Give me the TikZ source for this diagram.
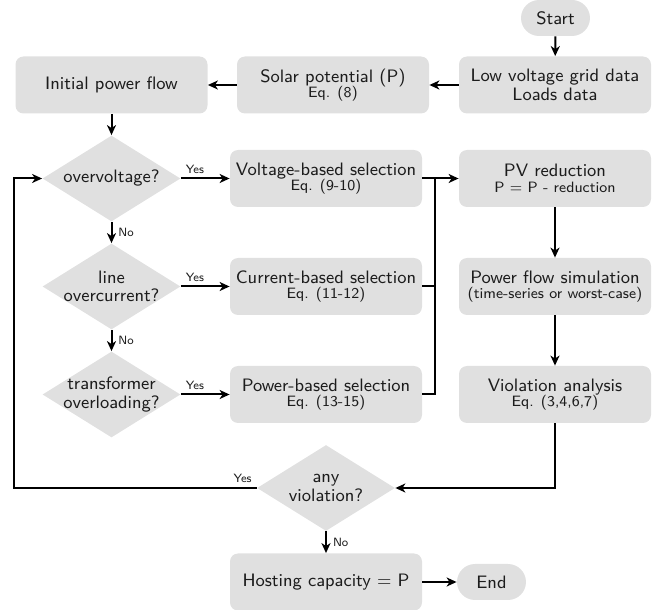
\documentclass[tikz,border=0pt]{standalone}
\usepackage{fontspec}
\usetikzlibrary{shapes.geometric,arrows.meta}
\definecolor{boxfill}{RGB}{224,224,224}
\definecolor{txt}{RGB}{28,28,28}
\newcommand{\mainfnt}{\sffamily\fontsize{9}{9.3}\selectfont}
\newcommand{\subfnt}{\fontsize{7.5}{8}\selectfont}
\newcommand{\lblfnt}{\sffamily\fontsize{6}{7}\selectfont}
\begin{document}
\begin{tikzpicture}[x=0.5pt,y=-0.5pt,
  proc/.style={rectangle, rounded corners=4pt, fill=boxfill, minimum width=96pt, minimum height=28.5pt, align=center, inner sep=1pt, text=txt, font=\mainfnt},
  term/.style={rectangle, rounded corners=9pt, fill=boxfill, minimum width=34.5pt, minimum height=18pt, inner sep=1pt, text=txt, font=\mainfnt},
  dia/.style={diamond, fill=boxfill, minimum width=69pt, minimum height=43pt, inner sep=0pt},
  dtext/.style={align=center, text=txt, font=\mainfnt, inner sep=0pt},
  flow/.style={line width=1pt, -{Stealth[length=5pt,width=4.5pt,inset=1.5pt]}},
  plain/.style={line width=1pt},
  lbl/.style={font=\lblfnt, text=txt, inner sep=2pt}
]
\useasboundingbox (0,0) rectangle (666,610);

% nodes
\node[term] (start) at (555.5,18) {Start};
\node[proc] (lv) at (555,85) {Low voltage grid data\\Loads data};
\node[proc] (solar) at (333,85) {Solar potential (P)\\[-1.5pt]{\subfnt Eq. (8)}};
\node[proc] (init) at (111.5,85) {Initial power flow};

\node[dia] (d1) at (111.5,178.5) {};
\node[dtext] (d1t) at (d1) {overvoltage?};
\node[proc] (volt) at (326,178.5) {Voltage-based selection\\[-1.5pt]{\subfnt Eq. (9-10)}};
\node[proc] (pv) at (555,178.5) {PV reduction\\[-1.5pt]{\subfnt P = P - reduction}};

\node[dia] (d2) at (111.5,286.5) {};
\node[dtext] (d2t) at (d2) {line\\overcurrent?};
\node[proc] (curr) at (326,286.5) {Current-based selection\\[-1.5pt]{\subfnt Eq. (11-12)}};
\node[proc] (pfs) at (555,286.5) {Power flow simulation\\[-1.5pt]{\subfnt (time-series or worst-case)}};

\node[dia] (d3) at (111.5,394.5) {};
\node[dtext] (d3t) at (d3) {transformer\\overloading?};
\node[proc] (powr) at (326,394.5) {Power-based selection\\[-1.5pt]{\subfnt Eq. (13-15)}};
\node[proc] (va) at (555,394.5) {Violation analysis\\[-1.5pt]{\subfnt Eq. (3,4,6,7)}};

\node[dia] (d4) at (326,488) {};
\node[dtext] (d4t) at (d4) {any\\violation?};
\node[proc] (host) at (326,582) {Hosting capacity = P};
\node[term] (endn) at (491.5,582) {End};

\coordinate (m) at (435,178.5);
\coordinate (fb) at (14,488);

% connectors
\draw[flow] (start) -- (lv);
\draw[flow] (lv) -- (solar);
\draw[flow] (solar) -- (init);
\draw[flow] (init) -- (d1);
\draw[flow] (d1) -- node[lbl, pos=0, above right]{Yes} (volt);
\draw[flow] (d1) -- node[lbl, midway, right, xshift=1pt]{No} (d2);
\draw[flow] (d2) -- node[lbl, pos=0, above right]{Yes} (curr);
\draw[flow] (d2) -- node[lbl, midway, right, xshift=1pt]{No} (d3);
\draw[flow] (d3) -- node[lbl, pos=0, above right]{Yes} (powr);
\draw[flow] (volt) -- (pv);
\draw[plain] (curr) -| (m);
\draw[plain] (powr) -| (m);
\draw[flow] (pv) -- (pfs);
\draw[flow] (pfs) -- (va);
\draw[flow] (va) |- (d4);
\draw[flow] (d4) -- node[lbl, pos=0, above left]{Yes} (fb) |- (d1);
\draw[flow] (d4) -- node[lbl, midway, right, xshift=1pt]{No} (host);
\draw[flow] (host) -- (endn);
\end{tikzpicture}
\end{document}
